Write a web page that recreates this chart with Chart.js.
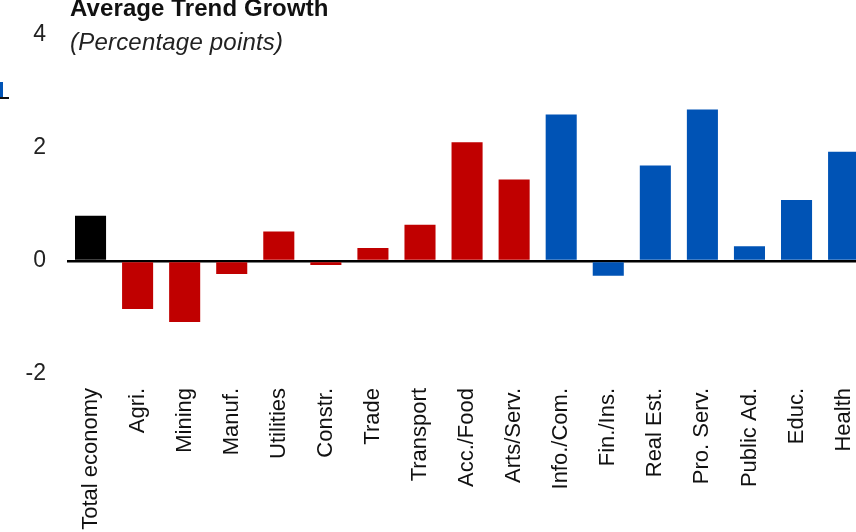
<!DOCTYPE html>
<html>
<head>
<meta charset="utf-8">
<script src="https://cdn.jsdelivr.net/npm/chart.js@4"></script>
<style>
  html, body { margin: 0; padding: 0; background: #fff; overflow: hidden; }
  #wrap { position: relative; width: 856px; height: 532px; overflow: hidden; }
  #chart { position: absolute; left: 0; top: 0; }
  .title { position: absolute; left: 70px; top: -6px; font: bold 24px "Liberation Sans", Arial, sans-serif; color: #111; letter-spacing: 0.1px; white-space: nowrap; }
  .sub { position: absolute; left: 70px; top: 28px; font: italic 24px "Liberation Sans", Arial, sans-serif; color: #222; letter-spacing: 0.2px; white-space: nowrap; }
  .mk1 { position: absolute; left: 0; top: 82px; width: 3px; height: 16px; background: #0053b5; }
  .mk2 { position: absolute; left: 0; top: 97px; width: 9px; height: 2px; background: #111; }
</style>
</head>
<body>
<div id="wrap">
  <canvas id="chart" width="884" height="532"></canvas>
  <div class="title">Average Trend Growth</div>
  <div class="sub">(Percentage points)</div>
  <div class="mk1"></div>
  <div class="mk2"></div>
</div>
<script>
const categories = ['Total economy', 'Agri.', 'Mining', 'Manuf.', 'Utilities', 'Constr.', 'Trade', 'Transport',
  'Acc./Food', 'Arts/Serv.', 'Info./Com.', 'Fin./Ins.', 'Real Est.', 'Pro. Serv.', 'Public Ad.', 'Educ.', 'Health'];
const values = [0.80, -0.85, -1.08, -0.23, 0.52, -0.07, 0.23, 0.64, 2.10, 1.44, 2.59, -0.26, 1.69, 2.68, 0.26, 1.08, 1.93];
const groups = ['total', 'goods', 'goods', 'goods', 'goods', 'goods', 'goods', 'goods', 'goods', 'goods',
  'services', 'services', 'services', 'services', 'services', 'services', 'services'];
const yTicks = [-2, 0, 2, 4];

const colours = { total: '#000000', goods: '#c00000', services: '#0053b5' };

document.addEventListener('DOMContentLoaded', function () {
  new Chart(document.getElementById('chart'), {
    type: 'bar',
    data: {
      labels: categories,
      datasets: [
        {
          data: values,
          backgroundColor: groups.map(g => colours[g]),
          borderWidth: 0,
          barPercentage: 0.66,
          categoryPercentage: 1,
        },
      ],
    },
    options: {
      responsive: false,
      animation: false,
      layout: { padding: { top: 29, right: 0, left: 0, bottom: 0 } },
      plugins: {
        legend: { display: false },
        tooltip: { enabled: false },
      },
      scales: {
        x: {
          grid: { display: false, drawTicks: false },
          border: { display: false },
          ticks: {
            minRotation: 90,
            maxRotation: 90,
            padding: 14,
            color: '#111',
            font: { family: '"Liberation Sans", Arial, sans-serif', size: 22 },
          },
          afterFit: function (scale) { scale.height = 158; },
        },
        y: {
          min: -2,
          max: 4,
          afterBuildTicks: function (scale) { scale.ticks = yTicks.map(v => ({ value: v })); },
          border: { display: false },
          grid: {
            drawTicks: false,
            color: ctx => (ctx.tick && ctx.tick.value === 0 ? '#000' : 'rgba(0,0,0,0)'),
            lineWidth: ctx => (ctx.tick && ctx.tick.value === 0 ? 2.5 : 0),
          },
          ticks: {
            padding: 21,
            color: '#222',
            font: { family: '"Liberation Sans", Arial, sans-serif', size: 23 },
          },
          afterFit: function (scale) { scale.width = 67; },
        },
      },
    },
  })
})
</script>
</body>
</html>
